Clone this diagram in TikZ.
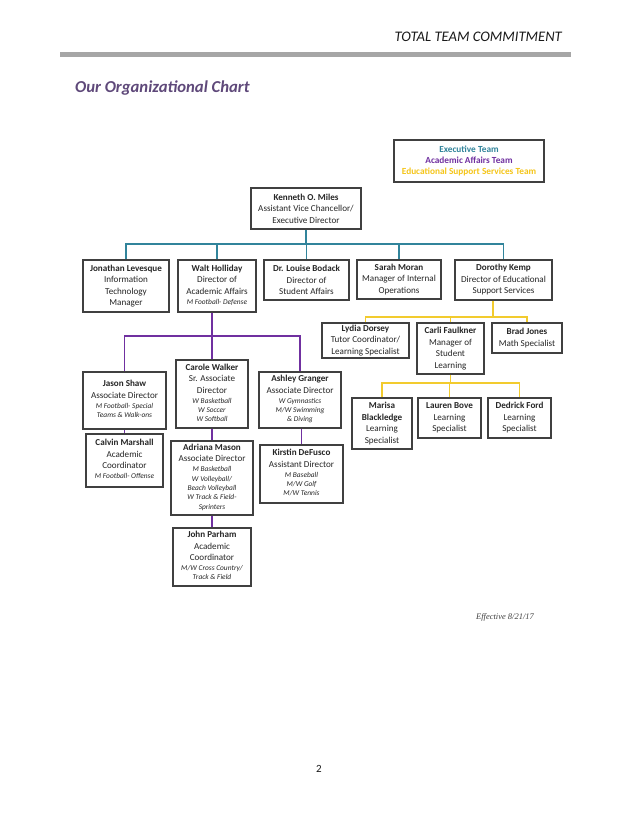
\documentclass[tikz,border=0pt]{standalone}
\usepackage{fontspec}
\setmainfont{Carlito}
\newfontfamily\timesit{Liberation Serif}
\usetikzlibrary{calc}
\definecolor{tealc}{HTML}{31849B}
\definecolor{purc}{HTML}{7030A0}
\definecolor{ylwc}{HTML}{F2CB2E}
\definecolor{ylwt}{HTML}{F5C518}
\definecolor{titlec}{HTML}{5F497A}
\definecolor{barc}{HTML}{A6A6A6}
\definecolor{boxc}{HTML}{404040}
\newcommand{\sportblk}[1]{{\fontsize{7.4}{9.3}\selectfont\itshape\begin{tabular}[t]{@{}c@{}}#1\end{tabular}}}
\begin{document}
\begin{tikzpicture}[x=1pt,y=-1pt,
  box/.style={draw=boxc, line width=1.1pt, fill=white, rectangle, inner sep=1pt,
    align=center, font=\fontsize{9.1}{11.5}\selectfont, text=black!85},
  tl/.style={draw=tealc, line width=1.6pt},
  pl/.style={draw=purc, line width=1.6pt},
  yl/.style={draw=ylwc, line width=1.6pt}]
\useasboundingbox (0,0) rectangle (638,826);
\fill[white] (0,0) rectangle (638,826);
% header
\node[anchor=base east, inner sep=0, font=\fontsize{14.6}{16}\selectfont\itshape, text=black!90] (hdr) at (562,42) {TOTAL TEAM COMMITMENT};
\fill[barc] (60,52) rectangle (571,57.5);
\node[anchor=base west, inner sep=0, font=\fontsize{16.7}{18}\selectfont\bfseries\itshape, text=titlec] (ttl) at (75,93) {Our Organizational Chart};
% legend
\node[box, minimum width=150pt, minimum height=42pt, font=\fontsize{9.3}{11.3}\selectfont\bfseries] (leg) at (469,161)
  {\textcolor{tealc}{Executive Team}\\\textcolor{purc}{Academic Affairs Team}\\\textcolor{ylwt}{Educational Support Services Team}};
% boxes
\node[box, minimum width=110pt, minimum height=41pt] (ken) at (306,208.5) {\textbf{Kenneth O. Miles}\\Assistant Vice Chancellor/\\Executive Director};
\node[box, minimum width=86pt, minimum height=52pt] (jon) at (126,286) {\textbf{Jonathan Levesque}\\Information\\Technology\\Manager};
\node[box, minimum width=78pt, minimum height=52pt] (walt) at (217,286) {\textbf{Walt Holliday}\\Director of\\Academic Affairs\\[-1.5pt]\sportblk{M Football- Defense}};
\node[box, minimum width=85pt, minimum height=40pt] (lou) at (306.5,280) {\textbf{Dr. Louise Bodack}\\Director of\\Student Affairs};
\node[box, minimum width=84pt, minimum height=39pt] (sarah) at (399,279.5) {\textbf{Sarah Moran}\\Manager of Internal\\Operations};
\node[box, minimum width=97pt, minimum height=40pt] (dor) at (503.5,280) {\textbf{Dorothy Kemp}\\Director of Educational\\Support Services};
\node[box, minimum width=87pt, minimum height=35pt] (lyd) at (365.5,340.5) {\textbf{Lydia Dorsey}\\Tutor Coordinator/\\Learning Specialist};
\node[box, minimum width=67pt, minimum height=51pt] (carli) at (450.5,348.5) {\textbf{Carli Faulkner}\\Manager of\\Student\\Learning};
\node[box, minimum width=70pt, minimum height=30pt] (brad) at (527,338) {\textbf{Brad Jones}\\Math Specialist};
\node[box, minimum width=60pt, minimum height=51pt] (mar) at (382,423.5) {\textbf{Marisa}\\\textbf{Blackledge}\\Learning\\Specialist};
\node[box, minimum width=63pt, minimum height=40pt] (lau) at (449.5,418) {\textbf{Lauren Bove}\\Learning\\Specialist};
\node[box, minimum width=63pt, minimum height=40pt] (ded) at (519.5,418) {\textbf{Dedrick Ford}\\Learning\\Specialist};
\node[box, minimum width=83pt, minimum height=57pt] (jas) at (124.5,400.5) {\textbf{Jason Shaw}\\Associate Director\\[-1.5pt]\sportblk{M Football- Special\\Teams \& Walk-ons}};
\node[box, minimum width=72pt, minimum height=68pt] (car) at (212,394) {\textbf{Carole Walker}\\Sr. Associate\\Director\\[-1.5pt]\sportblk{W Basketball\\W Soccer\\W Softball}};
\node[box, minimum width=82pt, minimum height=56pt] (ash) at (300,400) {\textbf{Ashley Granger}\\Associate Director\\[-1.5pt]\sportblk{W Gymnastics\\M/W Swimming\\\& Diving}};
\node[box, minimum width=77pt, minimum height=53pt] (cal) at (124.5,460.5) {\textbf{Calvin Marshall}\\Academic\\Coordinator\\[-1.5pt]\sportblk{M Football- Offense}};
\node[box, minimum width=82pt, minimum height=74pt] (adr) at (212,478) {\textbf{Adriana Mason}\\Associate Director\\[-1.5pt]\sportblk{M Basketball\\W Volleyball/\\Beach Volleyball\\W Track \& Field-\\Sprinters}};
\node[box, minimum width=83pt, minimum height=58pt] (kir) at (301.5,474) {\textbf{Kirstin DeFusco}\\Assistant Director\\[-1.5pt]\sportblk{M Baseball\\M/W Golf\\M/W Tennis}};
\node[box, minimum width=78pt, minimum height=58pt] (john) at (212,557) {\textbf{John Parham}\\Academic\\Coordinator\\[-1.5pt]\sportblk{M/W Cross Country/\\Track \& Field}};
% teal connectors
\coordinate (tb) at (0,244);
\draw[tl] (ken.south) -- (ken.south |- tb);
\draw[tl] (jon.north) -- (jon.north |- tb) -- (dor.north |- tb) -- (dor.north);
\foreach \n in {walt,lou,sarah} \draw[tl] (\n.north) -- (\n.north |- tb);
% purple connectors
\coordinate (pb) at (0,336);
\draw[pl] (car.north |- walt.south) -- (car.north);
\draw[pl] (jas.north) -- (jas.north |- pb) -- (ash.north |- pb) -- (ash.north);
\draw[pl] (jas.south) -- (jas.south |- cal.north);
\draw[pl] (car.south) -- (adr.north);
\draw[pl] (adr.south) -- (john.north);
\draw[pl] (ash.south -| kir.north) -- (kir.north);
% yellow connectors
\coordinate (yb) at (0,317);
\coordinate (yc) at (0,383);
\coordinate (dsplit) at ($(dor.south west)!0.39!(dor.south east)$);
\draw[yl] (dsplit) -- (dsplit |- yb);
\draw[yl] (lyd.north) -- (lyd.north |- yb) -- (brad.north |- yb) -- (brad.north);
\draw[yl] (carli.north) -- (carli.north |- yb);
\draw[yl] (carli.south) -- (carli.south |- yc);
\draw[yl] (mar.north) -- (mar.north |- yc) -- (ded.north |- yc) -- (ded.north);
\draw[yl] (lau.north) -- (lau.north |- yc);
% footer texts
\node[inner sep=0, font=\fontsize{8.5}{10}\selectfont\timesit\itshape, text=black!75] (eff) at (505,617) {Effective 8/21/17};
\node[inner sep=0, font=\fontsize{11}{13}\selectfont, text=black!90] (pg) at (319,769) {2};
\end{tikzpicture}
\end{document}
